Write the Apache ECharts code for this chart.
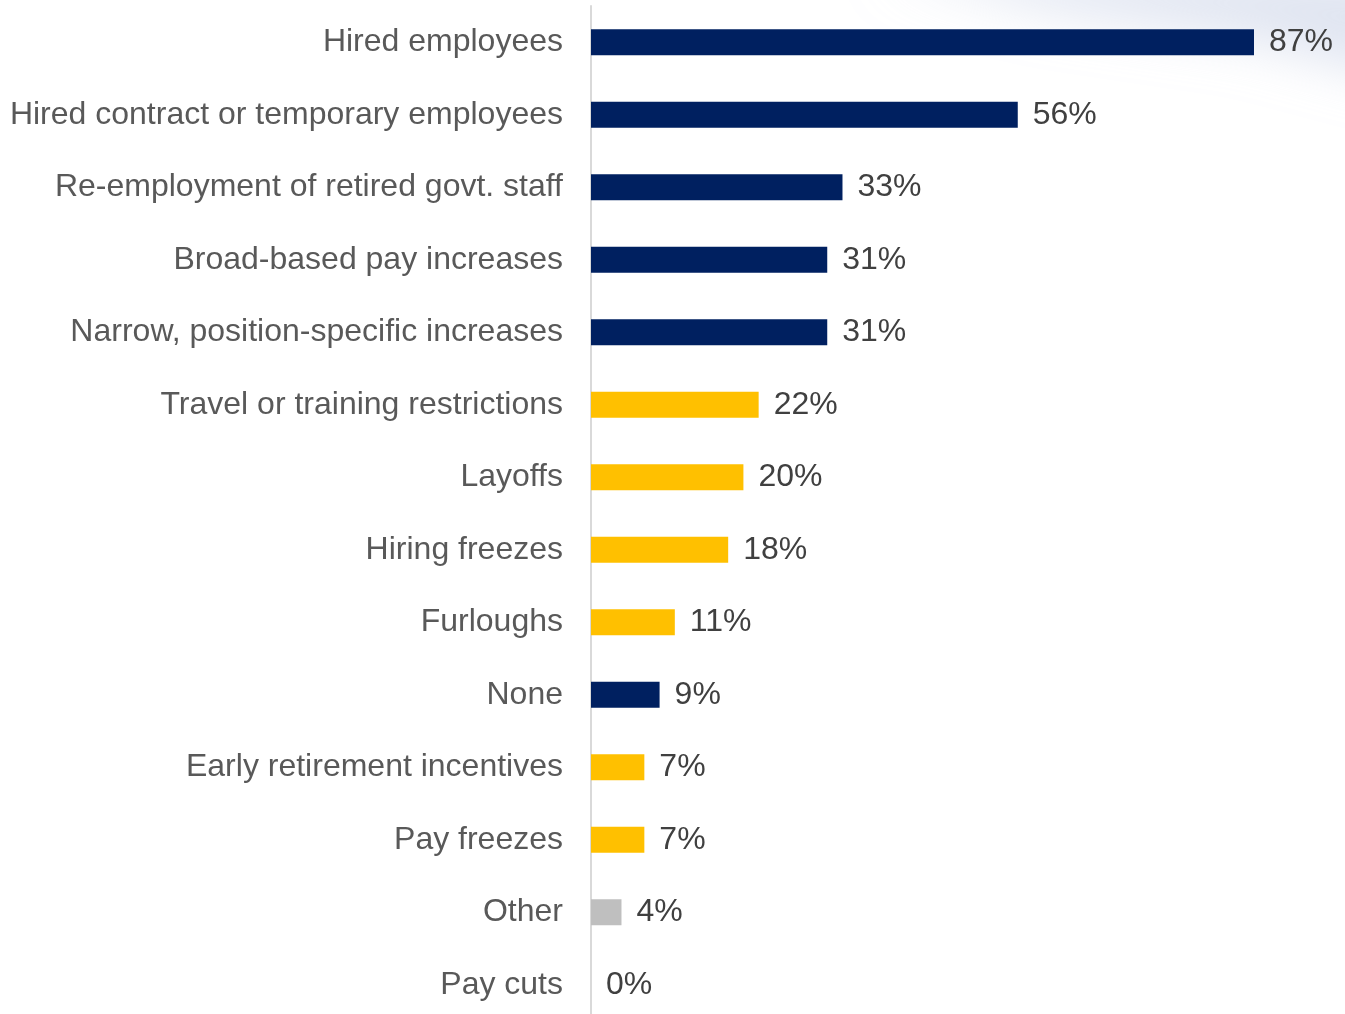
<!DOCTYPE html>
<html>
<head>
<meta charset="utf-8">
<script src="https://cdn.jsdelivr.net/npm/echarts@6/dist/echarts.min.js"></script>
<style>
html,body{margin:0;padding:0;background:#fff;overflow:hidden;}
#chart{width:1345px;height:1030px;}
</style>
</head>
<body>
<div id="chart"></div>
<script>
var categories = [
  "Hired employees",
  "Hired contract or temporary employees",
  "Re-employment of retired govt. staff",
  "Broad-based pay increases",
  "Narrow, position-specific increases",
  "Travel or training restrictions",
  "Layoffs",
  "Hiring freezes",
  "Furloughs",
  "None",
  "Early retirement incentives",
  "Pay freezes",
  "Other",
  "Pay cuts"
];
var values = [87, 56, 33, 31, 31, 22, 20, 18, 11, 9, 7, 7, 4, 0];
var groups = ["growth","growth","growth","growth","growth","cut","cut","cut","cut","growth","cut","cut","other","cut"];
var groupColors = { growth: "#002060", cut: "#FFC000", other: "#BFBFBF" };

var chart = echarts.init(document.getElementById('chart'));
var data = values.map(function (v, i) {
  return { value: v, itemStyle: { color: groupColors[groups[i]] } };
});
var OFF = 3000;
chart.setOption({
  backgroundColor: '#ffffff',
  animation: false,
  graphic: [{
    type: 'polygon',
    z: -10,
    silent: true,
    shape: { points: [[880 - OFF, -30], [1400 - OFF, -30], [1400 - OFF, 80], [1250 - OFF, 40], [1050 - OFF, 10]] },
    style: {
      fill: 'rgba(200,209,230,0.75)',
      shadowColor: 'rgba(200,209,230,0.75)',
      shadowBlur: 50,
      shadowOffsetX: OFF,
      shadowOffsetY: 0
    }
  }],
  grid: { left: 591, top: 6, right: 91, height: 1015, containLabel: false },
  xAxis: {
    type: 'value',
    min: 0,
    max: 87,
    show: false
  },
  yAxis: {
    type: 'category',
    inverse: true,
    data: categories,
    axisLine: { show: true, lineStyle: { color: '#d9d9d9', width: 2 } },
    axisTick: { show: false },
    axisLabel: {
      color: '#595959',
      fontFamily: '"Liberation Sans", Arial, sans-serif',
      fontSize: 32,
      margin: 28
    }
  },
  series: [{
    type: 'bar',
    data: data,
    barWidth: 26,
    label: {
      show: true,
      position: 'right',
      distance: 15,
      formatter: '{c}%',
      color: '#404040',
      fontFamily: '"Liberation Sans", Arial, sans-serif',
      fontSize: 32
    }
  }]
});
</script>
</body>
</html>
